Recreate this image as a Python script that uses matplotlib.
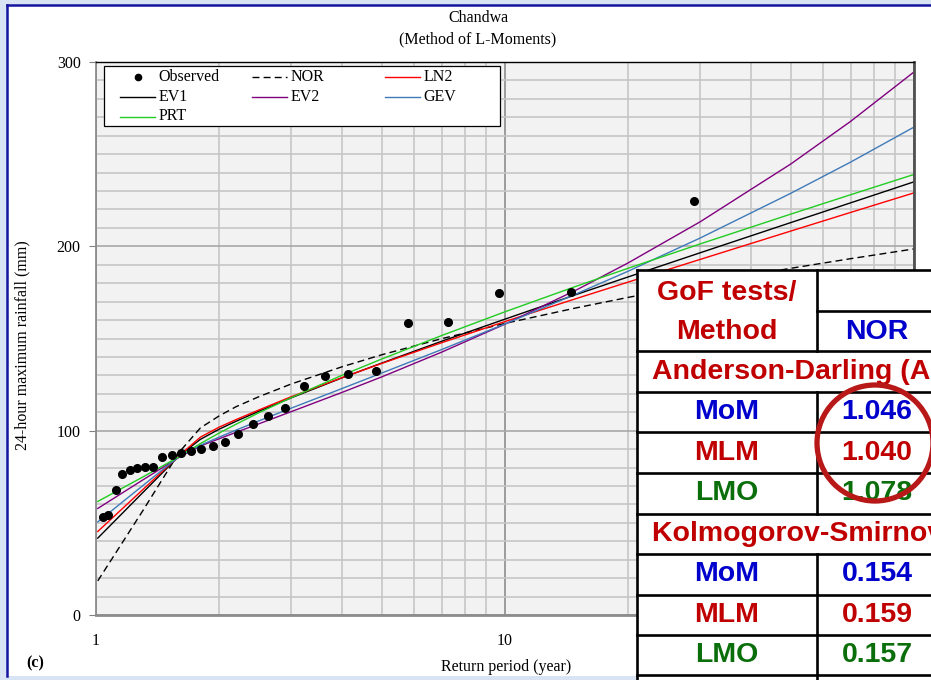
import matplotlib
matplotlib.use('Agg')
import matplotlib.pyplot as plt
from matplotlib.patches import Rectangle, Circle
from matplotlib.ticker import LogLocator, NullFormatter, FixedLocator

plt.rcParams['font.family'] = ['Liberation Serif', 'DejaVu Serif']

# observed annual maximum rainfall vs. return period
obs_T = [29.0, 14.5, 9.67, 7.25, 5.8, 4.83, 4.14, 3.63, 3.22, 2.9, 2.64, 2.42, 2.23, 2.07,
         1.93, 1.81, 1.71, 1.61, 1.53, 1.45, 1.38, 1.32, 1.26, 1.21, 1.16, 1.12, 1.07, 1.04]
obs_P = [224.5, 175.0, 174.5, 158.7, 158.2, 132.6, 130.6, 129.5, 124.1, 112.1, 108.0, 103.6,
         98.0, 94.0, 91.7, 89.8, 88.8, 87.7, 87.0, 85.9, 80.4, 80.1, 79.7, 78.8, 76.4, 67.8,
         54.3, 53.3]

# fitted quantiles
fit_T = [1.01, 1.3, 1.6, 1.8, 2, 2.2, 2.5, 3, 4, 5, 7, 10, 15, 20, 30, 50, 70, 100]
nor = [18.5, 56.4, 88.5, 101.5, 108.0, 113.0, 118.4, 125.3, 134.7, 141.2, 149.9, 158.2, 166.7, 172.3, 179.6, 188.1, 193.3, 198.6]
ln2 = [45.3, 67.9, 86.6, 96.5, 101.9, 106.0, 111.2, 118.4, 128.8, 136.5, 147.7, 159.2, 171.8, 180.6, 192.9, 208.3, 218.4, 229.0]
ev1 = [41.7, 66.3, 86.5, 95.3, 100.8, 105.1, 110.5, 117.8, 128.7, 136.7, 148.5, 160.5, 174.0, 183.4, 196.5, 212.9, 223.6, 235.0]
ev2 = [57.8, 73.2, 85.7, 91.7, 95.6, 99.1, 103.7, 110.3, 120.8, 129.2, 142.6, 157.8, 176.5, 191.0, 213.3, 244.7, 267.8, 294.6]
gev = [50.5, 70.1, 86.2, 92.1, 96.5, 100.3, 105.3, 112.2, 122.9, 131.3, 144.0, 157.9, 174.4, 186.5, 204.5, 228.8, 245.7, 264.7]
prt = [61.6, 74.8, 86.0, 93.0, 98.7, 103.5, 109.7, 117.9, 130.1, 138.9, 151.6, 164.5, 178.5, 188.1, 201.3, 217.5, 228.0, 239.0]

series = [('NOR', nor, 'black', (0, (5, 3))),
          ('EV1', ev1, 'black', '-'),
          ('LN2', ln2, '#ff0000', '-'),
          ('EV2', ev2, '#800080', '-'),
          ('GEV', gev, '#3f7ab8', '-'),
          ('PRT', prt, '#22cc22', '-')]

# GoF table (NOR column)
ad_rows = ['MoM', 'MLM', 'LMO']
ad_nor = ['1.046', '1.040', '1.078']
ks_nor = ['0.154', '0.159', '0.157']

W, H = 931, 680
fig = plt.figure(figsize=(W / 100, H / 100), dpi=100)
fig.patch.set_facecolor('#d8e3f3')

# slide panel behind the chart
bg = fig.add_axes([0, 0, 1, 1], zorder=0)
bg.set_xlim(0, W)
bg.set_ylim(H, 0)
bg.axis('off')
bg.add_patch(Rectangle((7, 5), 940, 671, fc='white', ec='none'))
bg.plot([7, 7], [5, 676], color='#1414a0', lw=1.8)
bg.plot([7, 940], [5, 5], color='#1414a0', lw=1.8)

ax = fig.add_axes([96 / W, 1 - 615 / H, 818 / W, 553 / H], zorder=1)
ax.set_facecolor('#f2f2f2')
ax.set_xscale('log')
ax.set_xlim(1, 100)
ax.set_ylim(0, 300)

ax.yaxis.set_major_locator(FixedLocator([0, 100, 200, 300]))
ax.yaxis.set_minor_locator(FixedLocator(range(0, 301, 10)))
ax.xaxis.set_major_locator(FixedLocator([1, 10, 100]))
ax.xaxis.set_minor_locator(LogLocator(base=10, subs=range(2, 10)))
ax.xaxis.set_minor_formatter(NullFormatter())
ax.set_xticklabels(['1', '10', ''])
ax.grid(which='minor', color='#c6c6c6', lw=1.2)
ax.grid(which='major', axis='y', color='#a8a8a8', lw=1.2)
ax.grid(which='major', axis='x', color='#8c8c8c', lw=1.2)
ax.set_axisbelow(True)
ax.tick_params(axis='y', which='major', length=5, color='#808080', pad=6, labelsize=11.5)
ax.tick_params(axis='both', which='minor', length=0)
ax.tick_params(axis='x', which='major', length=0, pad=13, labelsize=11.5)
ax.spines['left'].set_color('#8c8c8c')
ax.spines['left'].set_linewidth(1.3)
ax.spines['bottom'].set_color('#8c8c8c')
ax.spines['bottom'].set_linewidth(2.0)
ax.spines['right'].set_color('#505050')
ax.spines['right'].set_linewidth(2.0)
ax.spines['top'].set_color('black')
ax.spines['top'].set_linewidth(1.0)

ax.plot(obs_T, obs_P, 'o', color='black', ms=5.5, zorder=5)
for name, vals, col, ls in series:
    ax.plot(fit_T, vals, color=col, ls=ls, lw=1.0)

fig.text(478 / W, 1 - 18 / H, 'Chandwa', ha='center', va='center', fontsize=11.5)
fig.text(478 / W, 1 - 39 / H, '(Method of L-Moments)', ha='center', va='center', fontsize=11.5)
fig.text(22 / W, 1 - 345 / H, '24-hour maximum rainfall (mm)', rotation=90,
         ha='center', va='center', fontsize=11.5)
fig.text(506 / W, 1 - 667 / H, 'Return period (year)', ha='center', va='center', fontsize=11.5)
fig.text(26 / W, 1 - 663 / H, '(c)', ha='left', va='center', fontsize=11.5, fontweight='bold')

# overlay in pixel units: legend box, GoF table and highlight circle
ov = fig.add_axes([0, 0, 1, 1], zorder=3)
ov.set_xlim(0, W)
ov.set_ylim(H, 0)
ov.axis('off')
ov.patch.set_alpha(0)

# legend laid out like the Excel one (three equal columns, row-major)
ov.add_patch(Rectangle((104, 65.5), 396, 60.5, fc='white', ec='black', lw=0.9))
slots = [(120, 77.3), (252, 77.3), (385, 77.3), (120, 96.7), (252, 96.7), (385, 96.7), (120, 116.5)]
styles = {name: (col, ls) for name, vals, col, ls in series}
names = ['Observed', 'NOR', 'LN2', 'EV1', 'EV2', 'GEV', 'PRT']
for name, (x, y) in zip(names, slots):
    if name == 'Observed':
        ov.plot([x + 18], [y], 'o', color='black', ms=4.5)
    else:
        col, ls = styles[name]
        ov.plot([x, x + 35], [y, y], color=col, ls=ls, lw=1.0)
    ov.text(x + 38.5, y, name, ha='left', va='center', fontsize=11.5)

x0, xc, x1 = 637, 817, 960
rows = [270, 351, 392, 432, 473, 514, 554, 595, 635, 675]
ov.add_patch(Rectangle((x0, 270), x1 - x0, 420, fc='white', ec='none'))
lw = 1.9
for y in rows:
    ov.plot([x0, x1], [y, y], color='black', lw=lw, solid_capstyle='projecting')
ov.plot([xc, x1], [311, 311], color='black', lw=lw)
ov.plot([x0, x0], [270, 690], color='black', lw=lw)
for ya, yb in [(270, 351), (392, 514), (554, 690)]:
    ov.plot([xc, xc], [ya, yb], color='black', lw=lw)

red, blue, green = '#c00000', '#0000cc', '#0a6e0a'
fs = 20.5
tkw = dict(ha='center', va='center', fontsize=fs, fontweight='bold',
           family=['Liberation Sans', 'DejaVu Sans'])
cx, vx = (x0 + xc) / 2, 877
ov.text(cx, 293, 'GoF tests/', color=red, **tkw)
ov.text(cx, 332, 'Method', color=red, **tkw)
ov.text(vx, 332, 'NOR', color=blue, **tkw)
lkw = dict(tkw, ha='left')
ov.text(652, 372, 'Anderson-Darling (AD)', color=red, clip_on=True, **lkw)
ov.text(652, 534, 'Kolmogorov-Smirnov (KS)', color=red, clip_on=True, **lkw)
cols = [blue, red, green]
for i, (lab, c) in enumerate(zip(ad_rows, cols)):
    ov.text(cx, 412 + 40.5 * i, lab, color=c, **tkw)
    ov.text(vx, 412 + 40.5 * i, ad_nor[i], color=c, **tkw)
    ov.text(cx, 574 + 40.5 * i, lab, color=c, **tkw)
    ov.text(vx, 574 + 40.5 * i, ks_nor[i], color=c, **tkw)

ov.add_patch(Circle((875, 443), 58, fill=False, ec='#b81818', lw=3.8, zorder=10))

fig.savefig('out.png', dpi=100, facecolor=fig.get_facecolor())
